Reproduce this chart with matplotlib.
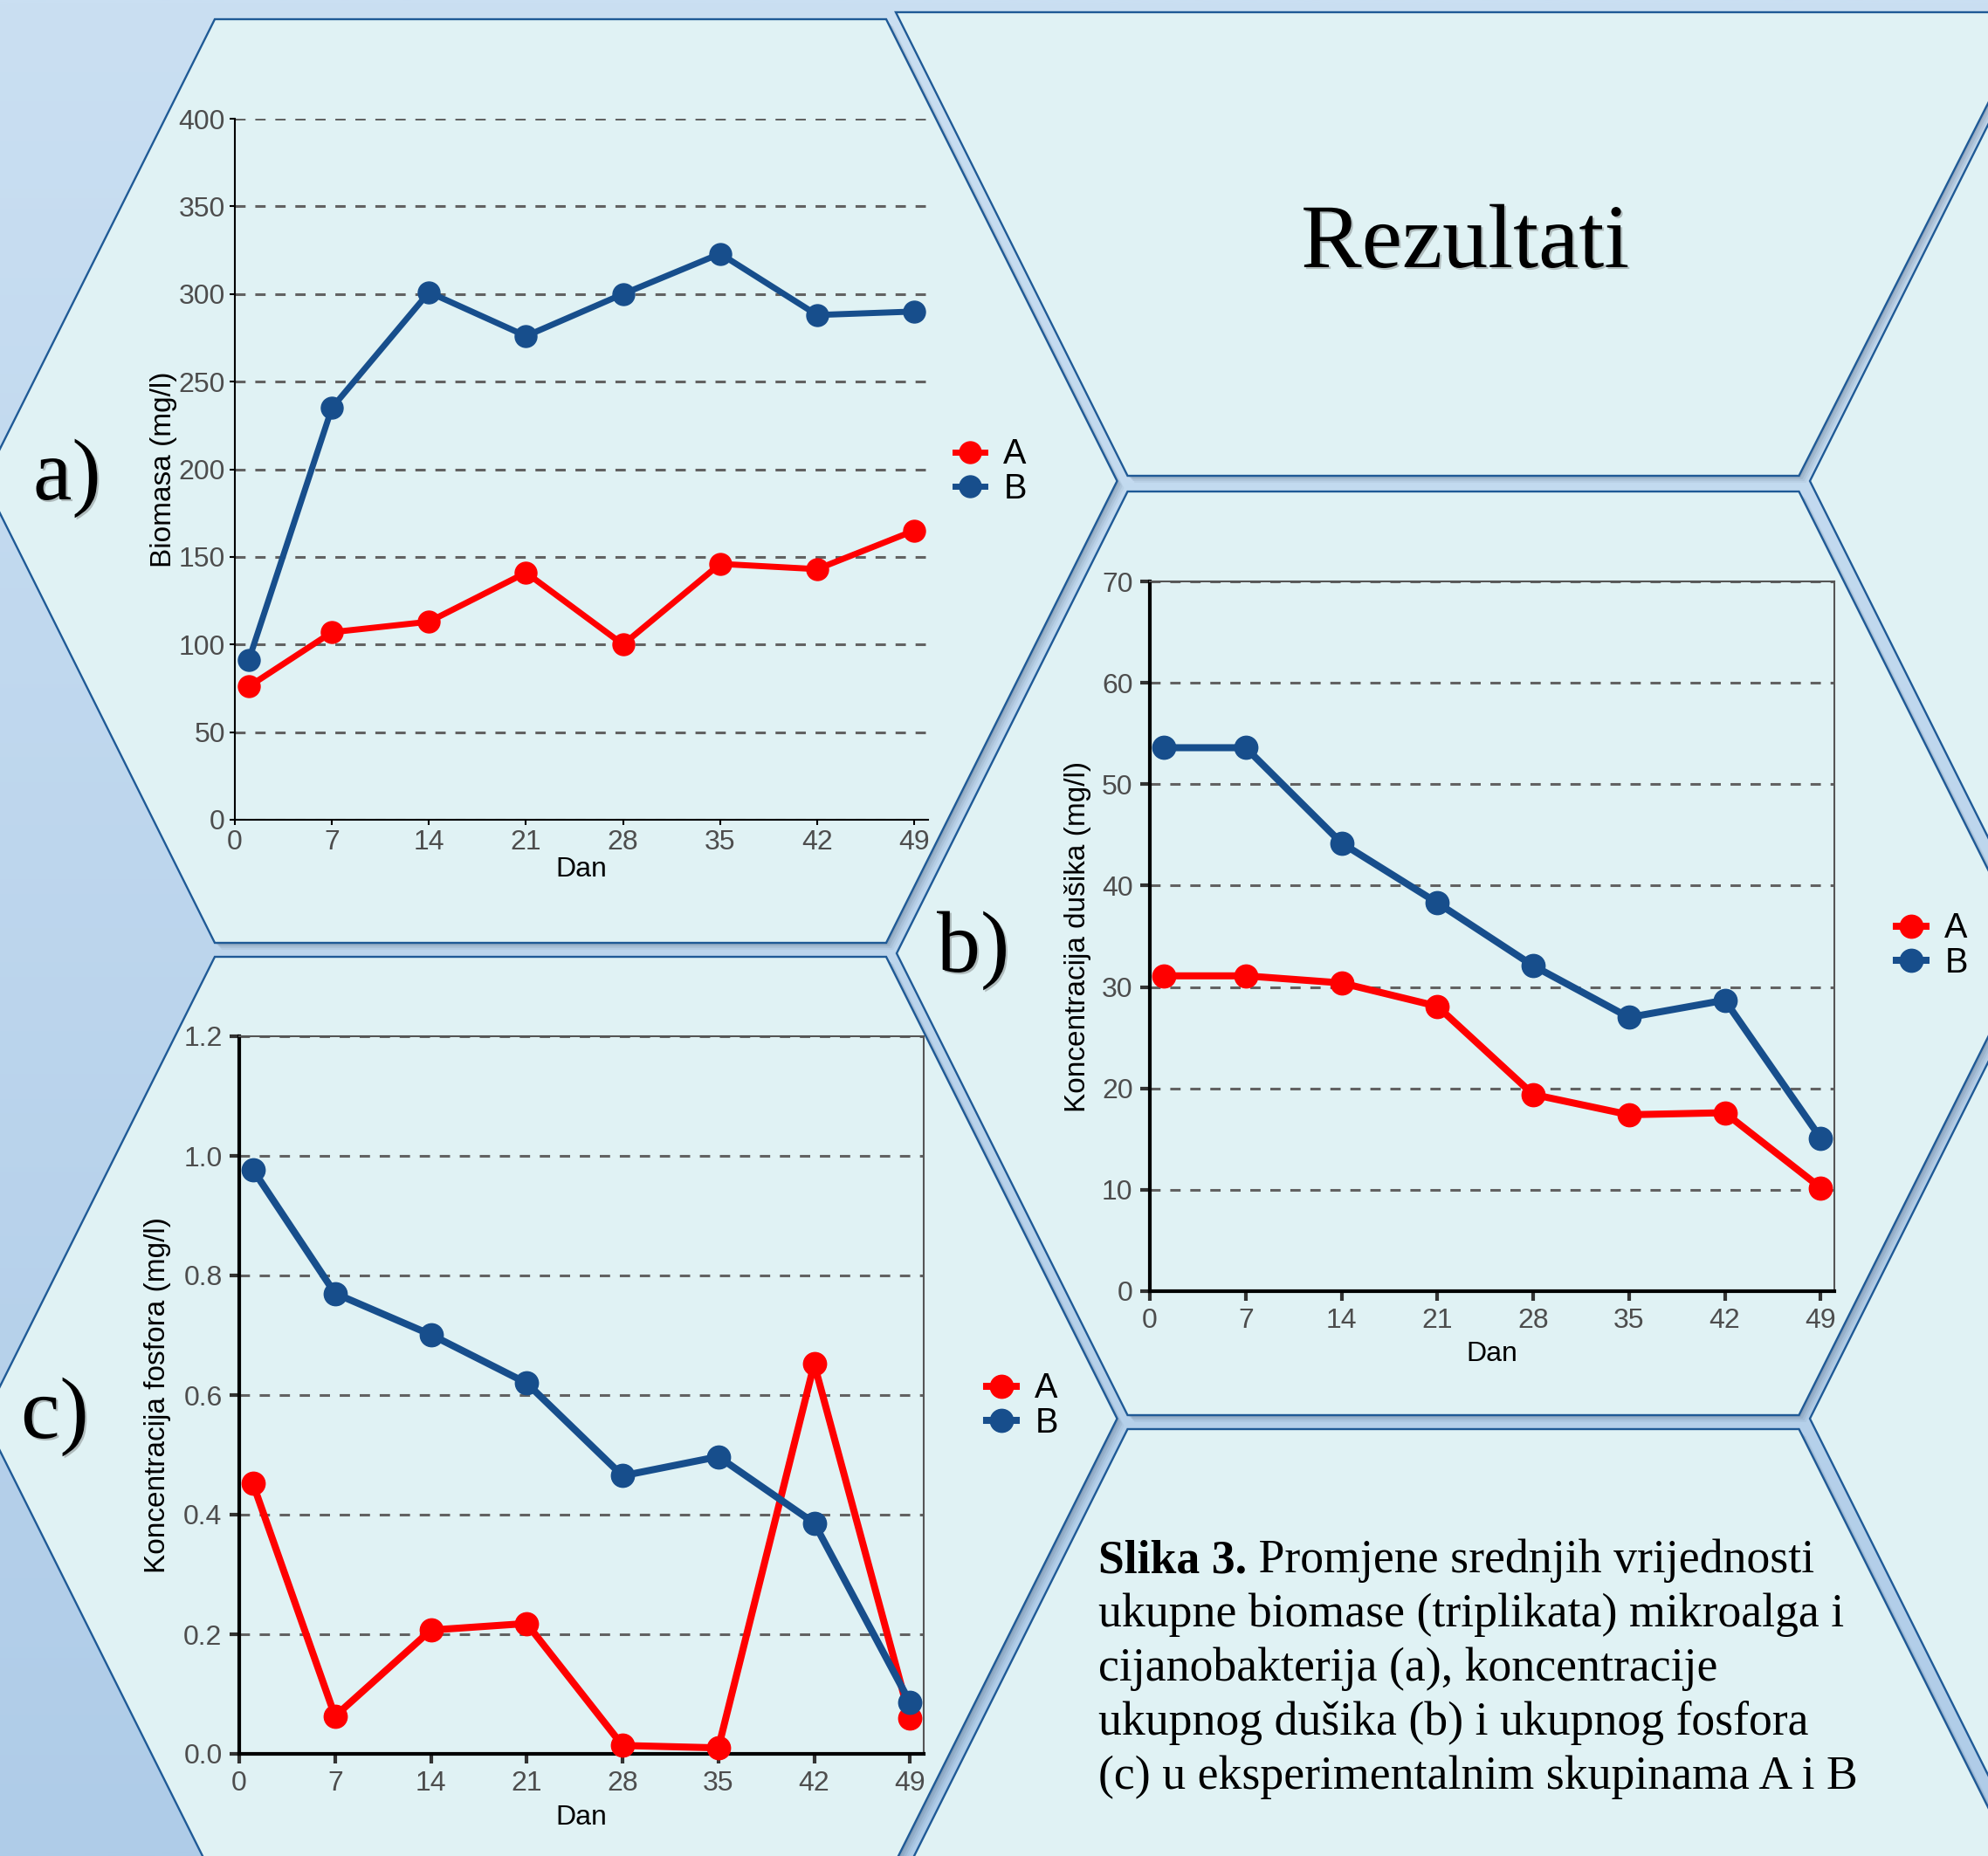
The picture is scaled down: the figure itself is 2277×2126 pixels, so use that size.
import numpy as np
import matplotlib
matplotlib.use("Agg")
import matplotlib.pyplot as plt
from matplotlib.patches import Polygon
from matplotlib.colors import to_rgb
import matplotlib.patheffects as pe

plt.rcParams['lines.scale_dashes'] = False

# ---------------- data ----------------
days = [1, 7, 14, 21, 28, 35, 42, 49]
day_ticks = [0, 7, 14, 21, 28, 35, 42, 49]
series_labels = ["A", "B"]

biomass_A = [76, 107, 113, 141, 100, 146, 143, 165]
biomass_B = [91, 235, 301, 276, 300, 323, 288, 290]
biomass_ticks = [0, 50, 100, 150, 200, 250, 300, 350, 400]

nitrogen_A = [31.1, 31.1, 30.4, 28.1, 19.4, 17.4, 17.6, 10.2]
nitrogen_B = [53.6, 53.6, 44.2, 38.3, 32.1, 27.0, 28.7, 15.1]
nitrogen_ticks = [0, 10, 20, 30, 40, 50, 60, 70]

phosphorus_A = [0.452, 0.063, 0.207, 0.218, 0.014, 0.010, 0.652, 0.060]
phosphorus_B = [0.977, 0.770, 0.701, 0.620, 0.465, 0.497, 0.386, 0.086]
phosphorus_ticks = [0.0, 0.2, 0.4, 0.6, 0.8, 1.0, 1.2]

title_text = "Rezultati"
caption_bold = "Slika 3."
caption_lines = [" Promjene srednjih vrijednosti",
                 "ukupne biomase (triplikata) mikroalga i",
                 "cijanobakterija (a), koncentracije",
                 "ukupnog dušika (b) i ukupnog fosfora",
                 "(c) u eksperimentalnim skupinama A i B"]

RED = "#FF0000"
BLUE = "#174E8C"
CELL = "#E0F2F4"
EDGE = "#1F5A96"
SANS = "Liberation Sans"
SERIF = "Liberation Serif"

# ---------------- canvas ----------------
W, H = 2277, 2126
DPI = 100
fig = plt.figure(figsize=(W / DPI, H / DPI), dpi=DPI)
fig.patch.set_facecolor("#C5DBF0")
bg = fig.add_axes([0, 0, 1, 1])
bg.axis("off")

top_c = np.array(to_rgb("#CADFF2"))
bot_c = np.array(to_rgb("#AFCCE8"))
t = np.linspace(0, 1, 256)[:, None]
grad = (top_c * (1 - t) + bot_c * t)[:, None, :]
bg.imshow(grad, extent=(0, W, H, 0), aspect="auto", zorder=0, interpolation="bilinear")
bg.set_xlim(0, W)
bg.set_ylim(H, 0)

HW_T, HW_V, HH = 384.5, 649, 529


def hexagon(cx, cy):
    return np.array([(cx - HW_T, cy - HH), (cx + HW_T, cy - HH), (cx + HW_V, cy),
                     (cx + HW_T, cy + HH), (cx - HW_T, cy + HH), (cx - HW_V, cy)])


rez = np.array([(1026, 14), (2330, 14), (2060.5, 545), (1291.5, 545), (1027, 16)])
cells = [hexagon(630.5, 551), hexagon(630.5, 1625), hexagon(1676, 1092),
         hexagon(1676, 2166), hexagon(2722, 551), hexagon(2722, 1625), rez]

for pts in cells:
    for off, a in [(8, 0.05), (6, 0.07), (4, 0.09), (2, 0.10)]:
        bg.add_patch(Polygon(pts + off, closed=True, fc="#23364f", ec="none",
                             alpha=a, zorder=1))
for pts in cells:
    bg.add_patch(Polygon(pts, closed=True, fc=CELL, ec=EDGE, lw=1.7, zorder=2,
                         joinstyle="miter"))

shadow = [pe.withSimplePatchShadow(offset=(1.5, -1.5), shadow_rgbFace="#555555", alpha=0.35)]

bg.text(1678, 306, title_text, fontsize=75, family=SERIF, ha="center", va="baseline",
        zorder=5, path_effects=shadow)
for lab, (x, y) in zip(["a)", "b)", "c)"], [(38, 572), (1073, 1113), (24, 1647)]):
    bg.text(x, y, lab, fontsize=72, family=SERIF, ha="left", va="baseline", zorder=5,
            path_effects=shadow)


# ---------------- charts ----------------
def make_chart(box, ylim, yticks, yfmt, ylabel, A, B, boxed, lab_x, xlab_y, leg_xy,
               lw, ms, tick_len, tick_w, tick_pad):
    left, right, top, bottom = box
    ax = fig.add_axes([left / W, 1 - bottom / H, (right - left) / W, (bottom - top) / H])
    ax.set_facecolor("none")
    ax.set_xlim(0, 50)
    ax.set_ylim(*ylim)
    ax.set_xticks(day_ticks)
    ax.set_yticks(yticks)
    ax.set_yticklabels([yfmt.format(v) for v in yticks])
    ax.set_axisbelow(True)
    ax.yaxis.grid(True, color="#626262", linestyle=(0, (8.5, 8.0)), linewidth=2.2)
    ax.xaxis.grid(False)

    ax.plot(days, A, color=RED, lw=lw, marker="o", ms=ms, label=series_labels[0],
            clip_on=False, zorder=4)
    ax.plot(days, B, color=BLUE, lw=lw, marker="o", ms=ms, label=series_labels[1],
            clip_on=False, zorder=5)

    if boxed:
        for s in ["left", "bottom"]:
            ax.spines[s].set_color("black")
            ax.spines[s].set_linewidth(3.0)
        for s in ["top", "right"]:
            ax.spines[s].set_color("#555555")
            ax.spines[s].set_linewidth(1.5)
        tcol = "#333333"
    else:
        for s in ["top", "right"]:
            ax.spines[s].set_visible(False)
        for s in ["left", "bottom"]:
            ax.spines[s].set_color("black")
            ax.spines[s].set_linewidth(1.5)
        tcol = "black"
    ax.tick_params(axis="both", direction="out", length=tick_len, width=tick_w,
                   color=tcol, labelcolor="#4D4D4D", labelsize=23, pad=tick_pad)
    for tl in ax.get_xticklabels() + ax.get_yticklabels():
        tl.set_family(SANS)

    ax.set_ylabel(ylabel, fontsize=24, family=SANS, color="black")
    ax.yaxis.set_label_coords(lab_x, 0.5)
    ax.set_xlabel("Dan", fontsize=23, family=SANS, color="black")
    ax.xaxis.set_label_coords(0.5, xlab_y)

    ax.legend(loc="center left", bbox_to_anchor=leg_xy, bbox_transform=bg.transData,
              frameon=False, prop={"family": SANS, "size": 28.5}, handlelength=0.85,
              handletextpad=0.55, labelspacing=0.03, borderpad=0, borderaxespad=0)
    return ax


ax_a = make_chart((269, 1063, 136, 939), (0, 400), biomass_ticks, "{:d}",
                  "Biomasa (mg/l)", biomass_A, biomass_B, False,
                  -0.083, -0.052, (1094, 540), 5.0, 18, 4.0, 1.5, 4.0)
ax_b = make_chart((1317, 2101, 666, 1479), (0, 70), nitrogen_ticks, "{:d}",
                  "Koncentracija dušika (mg/l)", nitrogen_A, nitrogen_B, True,
                  -0.0855, -0.070, (2172, 1083), 5.8, 19, 8.0, 3.0, 6.0)
ax_c = make_chart((274, 1058, 1187, 2009), (0, 1.2), phosphorus_ticks, "{:.1f}",
                  "Koncentracija fosfora (mg/l)", phosphorus_A, phosphorus_B, True,
                  -0.0995, -0.0706, (1130, 1610), 5.8, 19, 8.0, 3.0, 6.0)

# ---------------- caption ----------------
CAP_X, CAP_Y0, CAP_DY, CAP_FS = 1258, 1801, 62, 38.7
tb = bg.text(CAP_X, CAP_Y0, caption_bold, fontsize=CAP_FS, family=SERIF,
             fontweight="bold", ha="left", va="baseline", zorder=5)
fig.canvas.draw()
renderer = fig.canvas.get_renderer()
bb = tb.get_window_extent(renderer)
x_end = bg.transData.inverted().transform((bb.x1, bb.y0))[0]
for i, line in enumerate(caption_lines):
    x = x_end if i == 0 else CAP_X
    bg.text(x, CAP_Y0 + i * CAP_DY, line, fontsize=CAP_FS, family=SERIF,
            ha="left", va="baseline", zorder=5)

fig.savefig("out.png", dpi=DPI)
